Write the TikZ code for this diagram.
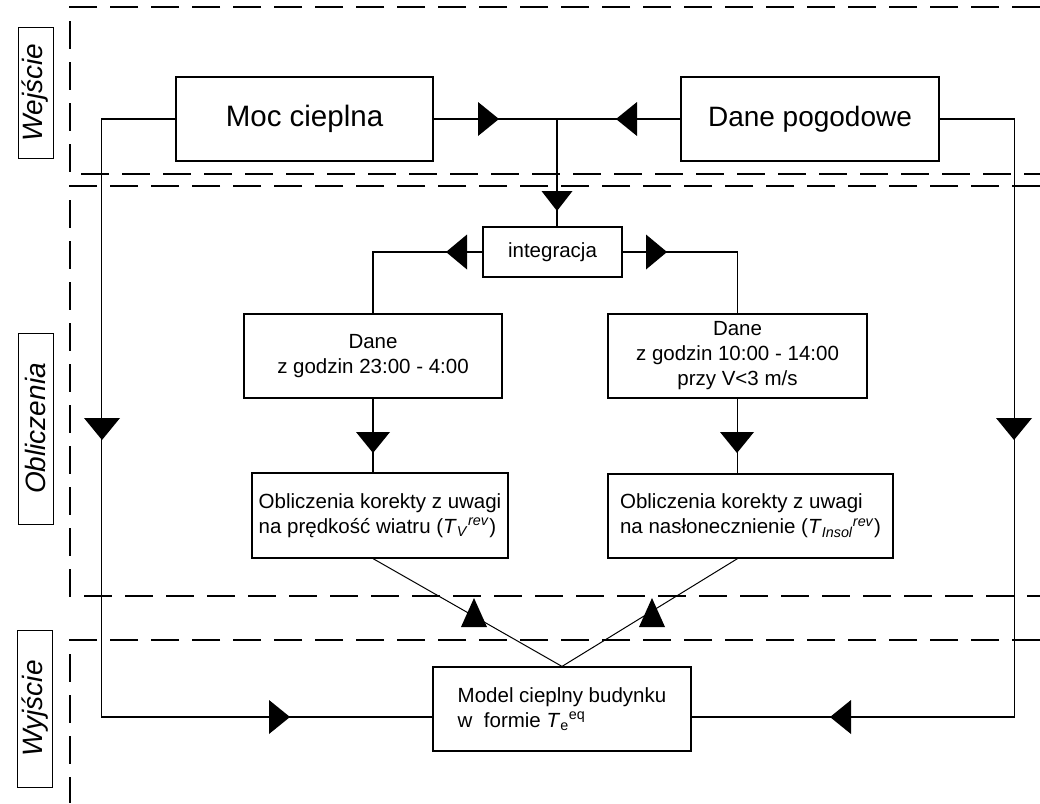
\documentclass[tikz,border=0pt]{standalone}
\usepackage{fontspec}
\setmainfont{Liberation Sans}
\begin{document}
\begin{tikzpicture}[
  x=1pt, y=-1pt,
  line width=1.2pt,
  caja/.style={draw, line width=1.2pt, inner sep=0pt, minimum height=84pt, align=center, font=\fontsize{20.5}{25}\selectfont},
  grande/.style={caja, font=\fontsize{28}{34}\selectfont},
  etiqueta/.style={draw, line width=1pt, rotate=90, inner sep=0pt, minimum height=35pt, font=\fontsize{28}{34}\selectfont\itshape},
  zona/.style={dash pattern=on 28pt off 13pt, line width=1.3pt},
  pics/punta/.style args={#1/#2}{code={\fill (0,0) -- (-#1,#2) -- (-#1,-#2) -- cycle;}}
]
  \useasboundingbox (0,0) rectangle (1040,803);

  % Zonas discontinuas
  \draw[zona] (1040,7) -| (70,174) -- (1040,174);
  \draw[zona] (1040,186) -| (70,596) -- (1040,596);
  \draw[zona] (1040,640) -| (70,803);

  % Etiquetas de las zonas
  \node[etiqueta, minimum width=131pt] (wej) at (35.5,92.5) {Wejście};
  \node[etiqueta, minimum width=191pt] (obl) at (35.5,428.5) {Obliczenia};
  \node[etiqueta, minimum width=157pt] (wyj) at (35,708.5) {Wyjście};

  % Cajas
  \node[grande, minimum width=257pt, font=\fontsize{29.5}{34}\selectfont] (moc) at (304.5,119) {Moc cieplna};
  \node[grande, minimum width=258pt] (pogoda) at (810,119) {Dane pogodowe};
  \node[caja, minimum width=139pt, minimum height=50pt] (integ) at (552.5,252) {integracja};
  \node[caja, minimum width=258pt] (daneA) at (373,356) {Dane\\z godzin 23:00 - 4:00};
  \node[caja, minimum width=259pt] (daneB) at (737.5,356) {Dane\\z godzin 10:00 - 14:00\\przy V<3 m/s};
  \node[caja, minimum width=256pt, minimum height=85pt, align=left] (oblA) at (380,515.5)
    {Obliczenia korekty z uwagi\\na prędkość wiatru (\textit{T}\textsubscript{\textit{V}}\textsuperscript{\textit{rev}})};
  \node[caja, minimum width=285pt, align=left] (oblB) at (750.5,516)
    {Obliczenia korekty z uwagi\\na nasłonecznienie (\textit{T}\textsubscript{\textit{Insol}}\textsuperscript{\textit{rev}})};
  \node[caja, minimum width=258pt, align=left] (model) at (562,709)
    {Model cieplny budynku\\w\ \ formie \textit{T}\textsubscript{e}\textsuperscript{eq}};

  % Conexiones
  \coordinate (union) at (557,119);
  \draw (moc.east) -- (pogoda.west);
  \draw (union) -- (union |- integ.north);
  \draw (moc.west) -- ++(-74,0) |- ([yshift=-8pt]model.west);
  \draw (pogoda.east) -- ++(75,0) |- ([yshift=-8pt]model.east);
  \draw (integ.west) -| (daneA.north);
  \draw (integ.east) -| (daneB.north);
  \draw (daneA.south) -- (daneA.south |- oblA.north);
  \draw (daneB.south) -- (daneB.south |- oblB.north);
  \draw[line width=1pt] (daneA.south |- oblA.south) -- (model.north) -- (daneB.south |- oblB.south);

  % Puntas de flecha
  \pic at (499,119) {punta=21/17};
  \pic[rotate=180] at (616,119) {punta=21/17};
  \pic[rotate=-90] at (557,211) {punta=20/15.5};
  \pic[rotate=180] at (446,252) {punta=21/17.5};
  \pic at (667,252) {punta=21/17.5};
  \pic[rotate=-90] at (373,453) {punta=21/17};
  \pic[rotate=-90] at (737,453) {punta=21/17};
  \pic[rotate=-90] at (102,440) {punta=22/18};
  \pic[rotate=-90] at (1014,440) {punta=22/18};
  \pic at (290,717) {punta=21/17};
  \pic[rotate=180] at (830,717) {punta=21/17};
  \pic[rotate=90] at (474,598) {punta=29/13};
  \pic[rotate=90] at (652,598) {punta=29/13};

\end{tikzpicture}
\end{document}
